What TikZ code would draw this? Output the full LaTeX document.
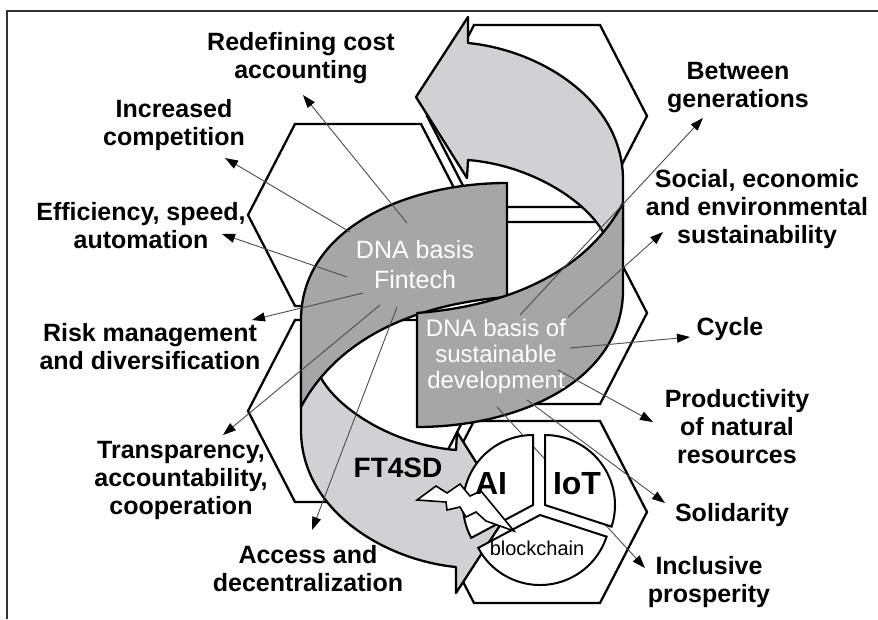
\documentclass[tikz,border=0pt]{standalone}
\usepackage{fontspec}
\setmainfont{Liberation Sans}
\usepackage{xcolor}
\usepackage{tikz}
\usetikzlibrary{arrows.meta}

\definecolor{ribdark}{RGB}{166,166,166}
\definecolor{riblight}{RGB}{209,208,211}

\begin{document}
\begin{tikzpicture}[x=1pt, y=-1pt,
    hexa/.style={draw, fill=white, line width=2.3pt},
    ribbon/.style={draw, line width=2.3pt, line join=round},
    piece/.style={draw, fill=white, line width=2pt},
    conn/.style={draw=black!70, line width=0.9pt, -{Triangle[length=13pt, width=9pt, color=black]}},
    lbl/.style={align=center, font=\bfseries\fontsize{25}{28}\selectfont},
    ribtext/.style={align=center, text=white, inner sep=1pt}]
    \useasboundingbox (0,0) rectangle (878,619);
    % Frame
    \draw[line width=1.3pt, black!80] (7,619) -- (7,11) -- (878,11);

    % Hexagons
    \foreach \cx/\cy in {358/215, 358/411, 537/116, 537/313, 537/512}
        \draw[hexa] ({\cx-110},\cy) -- ({\cx-63},{\cy-91}) -- ({\cx+63},{\cy-91}) -- ({\cx+110},\cy)
            -- ({\cx+63},{\cy+91}) -- ({\cx-63},{\cy+91}) -- cycle;

    % Light halves of the arrows
    \draw[ribbon, fill=riblight] (416,97) -- (468,17) -- (468,43) .. controls (540,50) and (623,100) .. (623,180)
        -- (623,245) -- (606,245) -- (603,232) .. controls (585,200) and (530,165) .. (468,160) -- (467,178) -- cycle;
    \draw[ribbon, fill=riblight] (508,513) -- (456,593) -- (456,567) .. controls (384,560) and (301,510) .. (301,430)
        -- (301,365) -- (318,365) -- (321,378) .. controls (339,410) and (394,445) .. (456,450) -- (457,432) -- cycle;

    % Dark halves of the arrows
    \draw[ribbon, fill=ribdark] (507,297) -- (507,183) .. controls (404,183) and (301,230) .. (301,320)
        -- (301,407) .. controls (334,345) and (404,305) .. (507,297) -- cycle;
    \draw[ribbon, fill=ribdark] (417,313) -- (417,427) .. controls (520,427) and (623,380) .. (623,290)
        -- (623,203) .. controls (590,265) and (520,305) .. (417,313) -- cycle;

    % Nodes
    \node[ribtext, font=\fontsize{25}{30}\selectfont] (fintech) at (415,265) {DNA basis\\Fintech};
    \node[ribtext, font=\fontsize{24}{26}\selectfont] (sustain) at (496,356) {DNA basis of\\sustainable\\development};

    \node[lbl] (cost) at (301,58) {Redefining cost\\accounting};
    \node[lbl] (compet) at (174,125) {Increased\\competition};
    \node[lbl] (effic) at (141,226) {Efficiency, speed,\\automation};
    \node[lbl] (risk) at (150,347) {Risk management\\and diversification};
    \node[lbl] (transp) at (181,480) {Transparency,\\accountability,\\cooperation};
    \node[lbl] (access) at (308,569) {Access and\\decentralization};
    \node[lbl] (between) at (738,88) {Between\\generations};
    \node[lbl] (social) at (757,209) {Social, economic\\and environmental\\sustainability};
    \node[lbl] (cycle) at (730,329) {Cycle};
    \node[lbl] (product) at (737,427) {Productivity\\of natural\\resources};
    \node[lbl] (solid) at (732,515) {Solidarity};
    \node[lbl] (inclus) at (709,582) {Inclusive\\prosperity};

    % Connector ends
    \coordinate (f1) at (407,223); \coordinate (t1) at (303,95);
    \coordinate (f2) at (350,232); \coordinate (t2) at (225,158);
    \coordinate (f3) at (347,277); \coordinate (t3) at (222,234);
    \coordinate (f4) at (363,293); \coordinate (t4) at (252,320);
    \coordinate (f5) at (380,305); \coordinate (t5) at (223,435);
    \coordinate (f6) at (397,307); \coordinate (t6) at (312,530);
    \coordinate (s1) at (520,315); \coordinate (u1) at (703,118);
    \coordinate (s2) at (568,317); \coordinate (u2) at (663,232);
    \coordinate (s3) at (570,348); \coordinate (u3) at (690,337);
    \coordinate (s4) at (558,370); \coordinate (u4) at (653,422);
    \coordinate (s5) at (527,400); \coordinate (u5) at (665,503);
    \coordinate (s6) at (497,407); \coordinate (u6) at (645,568);

    % Connections
    \draw[conn] (f1) -- (t1);
    \draw[conn] (f2) -- (t2);
    \draw[conn] (f3) -- (t3);
    \draw[conn] (f4) -- (t4);
    \draw[conn] (f5) -- (t5);
    \draw[conn] (f6) -- (t6);
    \draw[conn] (s1) -- (u1);
    \draw[conn] (s2) -- (u2);
    \draw[conn] (s3) -- (u3);
    \draw[conn] (s4) -- (u4);
    \draw[conn] (s5) -- (u5);
    \draw[conn] (s6) -- (u6);

    % Technology circle
    \begin{scope}[shift={(533,505)}]
        \draw[piece] (0,0) -- (-90:70) arc[start angle=-90, end angle=-208, radius=70] -- cycle;
    \end{scope}
    \begin{scope}[shift={(545,505)}]
        \draw[piece] (0,0) -- (-90:70) arc[start angle=-90, end angle=18, radius=70] -- cycle;
    \end{scope}
    \begin{scope}[shift={(540,515)}]
        \draw[piece] (0,0) -- (-208:70) arc[start angle=-208, end angle=-342, radius=70] -- cycle;
    \end{scope}

    % Lightning
    \draw[piece, line width=1.6pt] (417,500) -- (436,486) -- (447,493) -- (460,484) -- (470,496) -- (481,491)
        -- (514,531) -- (486,521) -- (476,512) -- (466,517) -- (460,507) -- (447,510) -- (446,502) -- cycle;

    \node[font=\bfseries\fontsize{28}{30}\selectfont] (ft4sd) at (398,468) {FT4SD};
    \node[font=\bfseries\fontsize{32}{34}\selectfont] (ai) at (491,483) {AI};
    \node[font=\bfseries\fontsize{32}{34}\selectfont] (iot) at (577,484) {IoT};
    \node[font=\fontsize{20}{22}\selectfont] (chain) at (537,548) {blockchain};
\end{tikzpicture}
\end{document}
